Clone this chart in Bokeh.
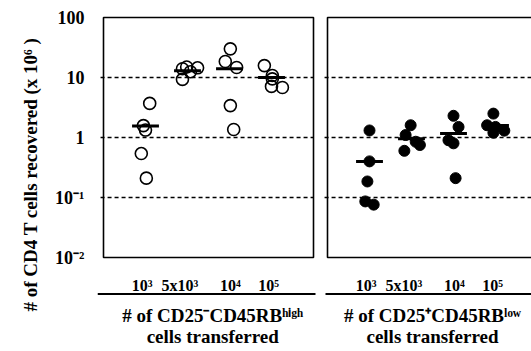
from bokeh.plotting import figure
from bokeh.models import Range1d, FixedTicker
from bokeh.core.properties import value
from bokeh.embed import file_html
from bokeh.resources import INLINE

# ---------------- data ----------------
dose_labels = ["10³", "5x10³", "10⁴", "10⁵"]
y_ticks = [0.01, 0.1, 1, 10, 100]
y_tick_labels = ["10⁻²", "10⁻¹", "1", "10", "100"]
grid_values = [10, 1, 0.1]

# CD25- CD45RB high (open circles)
high_group = [0, 0, 0, 0, 0, 1, 1, 1, 1, 1, 2, 2, 2, 2, 2, 3, 3, 3, 3, 3]
high_jitter = [0.10, -0.05, 0.00, -0.10, 0.02,
               -0.12, -0.02, 0.24, -0.12, 0.07,
               0.02, -0.10, 0.17, 0.02, 0.10,
               -0.17, 0.02, 0.02, 0.00, 0.26]
high_values = [3.7, 1.58, 1.33, 0.54, 0.21,
               14.0, 15.0, 14.5, 9.3, 12.5,
               30.0, 18.5, 14.7, 3.4, 1.36,
               15.8, 10.8, 9.5, 7.1, 6.8]
high_medians = [1.55, 13.0, 14.0, 10.0]

# CD25+ CD45RB low (filled circles)
low_group = [0, 0, 0, 0, 0, 1, 1, 1, 1, 1, 2, 2, 2, 2, 2, 3, 3, 3, 3, 3]
low_jitter = [0.00, 0.00, -0.05, -0.10, 0.10,
              -0.02, -0.14, 0.10, 0.20, -0.17,
              0.00, 0.12, -0.12, 0.00, 0.05,
              -0.05, -0.20, -0.05, 0.21, 0.00]
low_values = [1.31, 0.40, 0.185, 0.086, 0.076,
              1.6, 1.1, 0.85, 0.75, 0.6,
              2.3, 1.5, 0.9, 0.8, 0.21,
              2.5, 1.6, 1.2, 1.3, 1.5]
low_medians = [0.40, 0.95, 1.17, 1.58]

y_title = "# of CD4 T cells recovered (x 10⁶ )"
panel_titles = ["# of CD25⁻CD45RBʰⁱᵍʰ", "# of CD25⁺CD45RBˡᵒʷ"]
panel_subtitle = "cells transferred"

# ---------------- layout helpers ----------------
PX = 42.0                 # pixels per x unit
PANEL_W = 5.0
PANEL_STARTS = [0.0, 224 / PX]
X0, X1 = -6 / PX, 428 / PX
FONT = value("Liberation Serif")


def y_px(px):
    # value on the log axis at a given page pixel row
    return 10 ** (2 - (px - 17) / 60.0)


p = figure(width=531, height=351,
           x_range=Range1d(X0, X1),
           y_range=Range1d(y_px(348), y_px(0)),
           y_axis_type="log", x_axis_location=None,
           output_backend="svg", toolbar_location=None,
           min_border_left=97, min_border_right=0,
           min_border_top=0, min_border_bottom=3)
p.outline_line_color = None
p.grid.visible = False

ax = p.yaxis[0]
ax.ticker = FixedTicker(ticks=y_ticks)
ax.major_label_overrides = {t: l for t, l in zip(y_ticks, y_tick_labels)}
ax.axis_line_color = None
ax.major_tick_line_color = None
ax.minor_tick_line_color = None
ax.major_label_standoff = 7
ax.major_label_text_font = "Liberation Serif"
ax.major_label_text_font_style = "bold"
ax.major_label_text_font_size = "18px"
ax.major_label_text_color = "black"
ax.axis_label = y_title
ax.axis_label_text_font = "Liberation Serif"
ax.axis_label_text_font_style = "bold"
ax.axis_label_text_font_size = "19px"
ax.axis_label_text_color = "black"
ax.axis_label_standoff = 11

# dashed grid lines inside each panel
for i, s in enumerate(PANEL_STARTS):
    end = s + PANEL_W if i == 0 else X1 + 1
    p.segment(x0=[s - 0.07] * len(grid_values), x1=[end] * len(grid_values),
              y0=grid_values, y1=grid_values,
              line_color="black", line_width=1.5, line_dash="4 3")

# panel boxes
p.quad(left=PANEL_STARTS, right=[PANEL_STARTS[0] + PANEL_W, X1 + 1],
       bottom=[y_ticks[0]] * 2, top=[y_ticks[-1]] * 2,
       fill_color=None, line_color="black", line_width=1.6)


def draw_panel(start, groups, jitter, vals, medians, filled):
    xs = [start + 1 + g + j for g, j in zip(groups, jitter)]
    if filled:
        p.scatter(xs, vals, size=11, fill_color="black", line_color="black",
                  line_width=1)
    else:
        p.scatter(xs, vals, size=12, fill_color=None, line_color="black",
                  line_width=1.6)
    cx = [start + 1 + i for i in range(len(medians))]
    p.segment(x0=[c - 0.32 for c in cx], x1=[c + 0.32 for c in cx],
              y0=medians, y1=medians, line_color="black", line_width=3)


draw_panel(PANEL_STARTS[0], high_group, high_jitter, high_values, high_medians, False)
draw_panel(PANEL_STARTS[1], low_group, low_jitter, low_values, low_medians, True)

# category labels, separator lines and panel titles below the boxes
label_offsets = [0.92, 1.82, 3.02, 3.93]
title_centers = [2.6, 2.5]
for i, s in enumerate(PANEL_STARTS):
    p.text(x=[s + o for o in label_offsets], y=[y_px(285)] * 4, text=dose_labels,
           text_font=FONT, text_font_style="bold", text_font_size="16px",
           text_align="center", text_baseline="middle", text_color="black")
    p.text(x=[s + title_centers[i]], y=[y_px(315)], text=[panel_titles[i]],
           text_font=FONT, text_font_style="bold", text_font_size="19px",
           text_align="center", text_baseline="middle", text_color="black")
    p.text(x=[s + title_centers[i]], y=[y_px(336)], text=[panel_subtitle],
           text_font=FONT, text_font_style="bold", text_font_size="19px",
           text_align="center", text_baseline="middle", text_color="black")

p.segment(x0=[X0, 222 / PX], x1=[212 / PX, X1 + 1],
          y0=[y_px(293.5)] * 2, y1=[y_px(293.5)] * 2,
          line_color="black", line_width=2)

open("out.html", "w").write(file_html(p, INLINE))
